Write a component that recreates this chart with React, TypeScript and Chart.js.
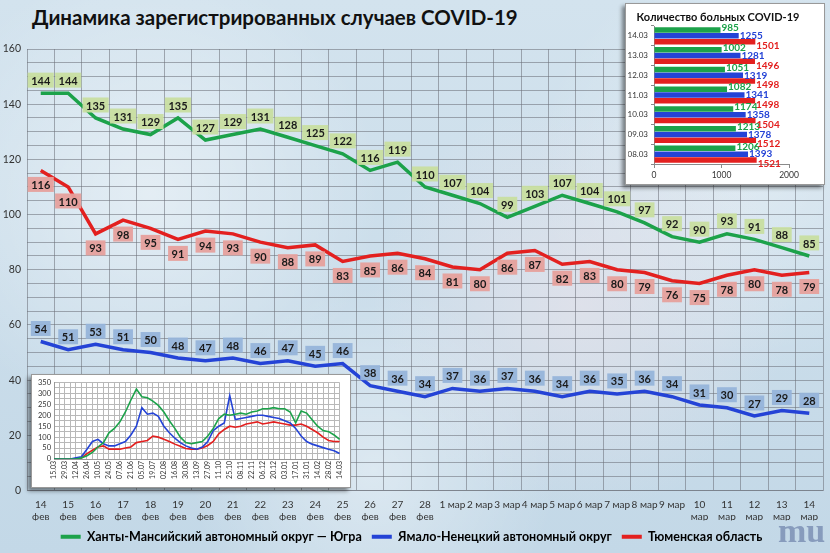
import { useEffect, useRef } from "react"
import { Chart, registerables } from "chart.js"

Chart.register(...registerables)

const FONT = "Lato, 'Noto Sans', sans-serif"

// main chart
const dayLabels: (string | string[])[] = [
  ["14", "фев"], ["15", "фев"], ["16", "фев"], ["17", "фев"], ["18", "фев"],
  ["19", "фев"], ["20", "фев"], ["21", "фев"], ["22", "фев"], ["23", "фев"],
  ["24", "фев"], ["25", "фев"], ["26", "фев"], ["27", "фев"], ["28", "фев"],
  "1 мар", "2 мар", "3 мар", "4 мар", "5 мар", "6 мар", "7 мар", "8 мар", "9 мар",
  ["10", "мар"], ["11", "мар"], ["12", "мар"], ["13", "мар"], ["14", "мар"],
]
const hmao = [144, 144, 135, 131, 129, 135, 127, 129, 131, 128, 125, 122, 116, 119, 110, 107, 104, 99, 103, 107, 104, 101, 97, 92, 90, 93, 91, 88, 85]
const yanao = [54, 51, 53, 51, 50, 48, 47, 48, 46, 47, 45, 46, 38, 36, 34, 37, 36, 37, 36, 34, 36, 35, 36, 34, 31, 30, 27, 29, 28]
const tyumen = [116, 110, 93, 98, 95, 91, 94, 93, 90, 88, 89, 83, 85, 86, 84, 81, 80, 86, 87, 82, 83, 80, 79, 76, 75, 78, 80, 78, 79]

const seriesNames = [
  "Ханты-Мансийский автономный округ — Югра",
  "Ямало-Ненецкий автономный округ",
  "Тюменская область",
]
const GREEN = "#1ca24a"
const BLUE = "#2443d6"
const RED = "#e3201f"

// inset: patients count
const barDates = ["14.03", "13.03", "12.03", "11.03", "10.03", "09.03", "08.03"]
const barHmao = [985, 1002, 1051, 1082, 1174, 1213, 1206]
const barYanao = [1255, 1281, 1319, 1341, 1358, 1378, 1393]
const barTyumen = [1501, 1496, 1498, 1498, 1504, 1512, 1521]

// inset: weekly history, 15.03 .. 14.03
const weekTicks = ["15.03", "29.03", "12.04", "26.04", "10.05", "24.05", "07.06", "21.06", "05.07", "19.07", "02.08", "16.08", "30.08", "13.09", "27.09", "11.10", "25.10", "08.11", "22.11", "06.12", "20.12", "03.01", "17.01", "31.01", "14.02", "28.02", "14.03"]
const weekHmao = [0, 0, 0, 0, 0, 5, 15, 30, 55, 75, 120, 140, 170, 215, 270, 320, 285, 280, 265, 245, 215, 175, 140, 100, 75, 70, 75, 80, 105, 140, 185, 205, 200, 205, 210, 205, 215, 220, 230, 230, 235, 230, 230, 215, 165, 220, 210, 180, 150, 130, 125, 110, 90]
const weekYanao = [0, 0, 0, 0, 5, 10, 45, 80, 90, 70, 60, 60, 70, 80, 110, 150, 235, 205, 210, 195, 150, 120, 95, 75, 60, 50, 45, 55, 80, 130, 150, 165, 290, 180, 185, 190, 195, 200, 200, 195, 190, 185, 175, 165, 140, 105, 80, 68, 60, 52, 45, 38, 25]
const weekTyumen = [0, 0, 0, 0, 0, 5, 25, 40, 55, 60, 45, 45, 45, 50, 55, 75, 80, 85, 105, 100, 90, 80, 68, 58, 48, 45, 45, 50, 62, 80, 115, 135, 150, 145, 150, 160, 165, 170, 160, 165, 170, 165, 160, 155, 155, 160, 150, 135, 120, 100, 85, 80, 80]

const labelStyle = [
  { fill: "rgba(200,222,160,0.95)", dy: -13 },
  { fill: "rgba(150,180,218,0.95)", dy: -13 },
  { fill: "rgba(230,160,156,0.95)", dy: 14 },
]

const boxLabels = {
  id: "boxLabels",
  afterDatasetsDraw(chart: any) {
    const ctx = chart.ctx
    ctx.save()
    ctx.font = `bold 11px ${FONT}`
    ctx.textAlign = "center"
    ctx.textBaseline = "middle"
    chart.data.datasets.forEach((ds: any, i: number) => {
      const meta = chart.getDatasetMeta(i)
      meta.data.forEach((pt: any, j: number) => {
        const text = String(ds.data[j])
        const w = ctx.measureText(text).width + 7
        const h = 15
        const cy = pt.y + labelStyle[i].dy
        ctx.fillStyle = labelStyle[i].fill
        ctx.fillRect(pt.x - w / 2, cy - h / 2, w, h)
        ctx.fillStyle = "#1a1a1a"
        ctx.fillText(text, pt.x, cy + 1)
      })
    })
    ctx.restore()
  },
}

function MainChart() {
  const chartRef = useRef<HTMLCanvasElement>(null)

  useEffect(() => {
    if (!chartRef.current) return
    const colors = [GREEN, BLUE, RED]
    const chart = new Chart(chartRef.current, {
      type: "line",
      data: {
        labels: dayLabels,
        datasets: [hmao, yanao, tyumen].map((d, i) => ({
          label: seriesNames[i],
          data: d,
          borderColor: colors[i],
          backgroundColor: colors[i],
          borderWidth: 3.5,
          pointRadius: 0,
          tension: 0,
        })),
      },
      options: {
        animation: false,
        responsive: true,
        maintainAspectRatio: false,
        layout: { padding: { top: 49, right: 7, left: 0, bottom: 0 } },
        scales: {
          x: {
            offset: true,
            grid: { offset: true, color: "rgba(105,110,118,0.55)", drawTicks: false },
            border: { color: "rgba(105,110,118,0.55)" },
            ticks: { color: "#333", font: { size: 10, family: FONT }, padding: 8, autoSkip: false, maxRotation: 0 },
            afterFit: (s: any) => { s.height = 30 },
          },
          y: {
            min: 0,
            max: 160,
            grid: { color: "rgba(105,110,118,0.55)", drawTicks: false },
            border: { display: false },
            ticks: {
              stepSize: 5,
              autoSkip: false,
              color: "#333",
              font: { size: 10.5, family: FONT },
              padding: 6,
              callback: (v: any) => (v % 20 === 0 ? v : ""),
            },
            afterFit: (s: any) => { s.width = 27 },
          },
        },
        plugins: {
          legend: {
            position: "bottom",
            labels: {
              boxWidth: 20,
              boxHeight: 4,
              padding: 10,
              color: "#1a1a1a",
              font: { size: 12.5, weight: "bold", family: FONT },
              generateLabels: (c: any) =>
                c.data.datasets.map((ds: any, i: number) => ({
                  text: ds.label,
                  fillStyle: ds.borderColor,
                  strokeStyle: ds.borderColor,
                  lineWidth: 0,
                  hidden: false,
                  datasetIndex: i,
                })),
            },
          },
          tooltip: { enabled: false },
        },
      },
      plugins: [boxLabels],
    })
    return () => chart.destroy()
  }, [])

  return (
    <div style={{ position: "absolute", left: 0, top: 0, width: 830, height: 553 }}>
      <canvas ref={chartRef} />
    </div>
  )
}

const barLabels = {
  id: "barLabels",
  afterDatasetsDraw(chart: any) {
    const ctx = chart.ctx
    const dy = [-2, 0, 4]
    ctx.save()
    ctx.font = `bold 10px ${FONT}`
    ctx.textAlign = "left"
    ctx.textBaseline = "middle"
    chart.data.datasets.forEach((ds: any, i: number) => {
      chart.getDatasetMeta(i).data.forEach((bar: any, j: number) => {
        ctx.fillStyle = ds.backgroundColor
        ctx.fillText(String(ds.data[j]), bar.x + 1, bar.y + dy[i])
      })
    })
    ctx.fillStyle = "#111"
    ctx.font = `bold 11px ${FONT}`
    ctx.textAlign = "center"
    ctx.fillText("Количество больных COVID-19", 92, 13)
    ctx.restore()
  },
}

function BarInset() {
  const chartRef = useRef<HTMLCanvasElement>(null)

  useEffect(() => {
    if (!chartRef.current) return
    const chart = new Chart(chartRef.current, {
      type: "bar",
      data: {
        labels: barDates,
        datasets: [
          { data: barHmao, backgroundColor: GREEN },
          { data: barYanao, backgroundColor: BLUE },
          { data: barTyumen, backgroundColor: RED },
        ],
      },
      options: {
        animation: false,
        responsive: true,
        maintainAspectRatio: false,
        indexAxis: "y",
        datasets: { bar: { categoryPercentage: 0.88, barPercentage: 0.95 } },
        layout: { padding: { top: 22, right: 35, left: 2, bottom: 0 } },
        scales: {
          x: {
            min: 0,
            max: 2000,
            ticks: {
              stepSize: 1000,
              color: "#333",
              font: { size: 8.5, family: FONT },
              padding: 2,
              callback: (v: any) => String(v),
            },
            grid: { drawOnChartArea: false, tickLength: 4, color: "#8a8a8a" },
            border: { color: "#8a8a8a" },
            afterFit: (s: any) => { s.height = 20 },
          },
          y: {
            ticks: { color: "#333", font: { size: 8, family: FONT }, padding: 3 },
            grid: { drawOnChartArea: false, tickLength: 3, offset: true, color: "#8a8a8a" },
            border: { color: "#8a8a8a" },
            afterFit: (s: any) => { s.width = 26 },
          },
        },
        plugins: { legend: { display: false }, tooltip: { enabled: false } },
      },
      plugins: [barLabels],
    })
    return () => chart.destroy()
  }, [])

  return (
    <div
      style={{
        position: "absolute", left: 625, top: 3, width: 198, height: 180,
        background: "#fff", boxShadow: "-3px 3px 4px rgba(0,0,0,0.45)", border: "1px solid #999",
      }}
    >
      <canvas ref={chartRef} />
    </div>
  )
}

function HistoryInset() {
  const chartRef = useRef<HTMLCanvasElement>(null)

  useEffect(() => {
    if (!chartRef.current) return
    const weekLabels = weekTicks.flatMap((t, i) => (i < weekTicks.length - 1 ? [t, ""] : [t]))
    const colors = [GREEN, BLUE, RED]
    const chart = new Chart(chartRef.current, {
      type: "line",
      data: {
        labels: weekLabels,
        datasets: [weekHmao, weekYanao, weekTyumen].map((d, i) => ({
          data: d,
          borderColor: colors[i],
          borderWidth: 1.6,
          pointRadius: 0,
          tension: 0,
        })),
      },
      options: {
        animation: false,
        responsive: true,
        maintainAspectRatio: false,
        layout: { padding: { top: 5, right: 4, left: 0, bottom: 0 } },
        scales: {
          x: {
            grid: { color: "#b8b8b8", drawTicks: false },
            border: { color: "#999" },
            ticks: { autoSkip: false, maxRotation: 90, minRotation: 90, color: "#333", font: { size: 7, family: FONT }, padding: 2 },
            afterFit: (s: any) => { s.height = 28 },
          },
          y: {
            min: 0,
            max: 350,
            grid: { color: "#b8b8b8", drawTicks: false },
            border: { color: "#999" },
            ticks: {
              stepSize: 25,
              autoSkip: false,
              color: "#333",
              font: { size: 7.5, family: FONT },
              padding: 3,
              callback: (v: any) => (v % 50 === 0 ? v : ""),
            },
            afterFit: (s: any) => { s.width = 22 },
          },
        },
        plugins: { legend: { display: false }, tooltip: { enabled: false } },
      },
    })
    return () => chart.destroy()
  }, [])

  return (
    <div
      style={{
        position: "absolute", left: 31, top: 374, width: 318, height: 112,
        background: "#fff", boxShadow: "-3px 3px 4px rgba(0,0,0,0.45)", border: "1px solid #999",
      }}
    >
      <canvas ref={chartRef} />
    </div>
  )
}

export default function App() {
  return (
    <div
      style={{
        position: "fixed", left: 0, top: 0, width: 830, height: 553, overflow: "hidden",
        fontFamily: FONT,
        background:
          "radial-gradient(circle at 18% 35%, rgba(255,255,255,0.45), transparent 30%)," +
          "radial-gradient(circle at 70% 55%, rgba(238,228,234,0.55), transparent 32%)," +
          "radial-gradient(circle at 45% 85%, rgba(255,255,255,0.4), transparent 28%)," +
          "radial-gradient(circle at 90% 30%, rgba(255,255,255,0.35), transparent 25%)," +
          "linear-gradient(180deg, #d3e3ee, #c3d8e7)",
      }}
    >
      <div
        style={{
          position: "absolute", left: 32, top: 5, fontSize: 20.5, fontWeight: "bold",
          color: "#111", whiteSpace: "nowrap",
        }}
      >
        Динамика зарегистрированных случаев COVID-19
      </div>
      <MainChart />
      <BarInset />
      <HistoryInset />
      <div
        style={{
          position: "absolute", left: 778, top: 512, fontSize: 34, fontWeight: "bold",
          fontFamily: "'Liberation Serif', serif", color: "rgba(95,115,160,0.6)",
        }}
      >
        mu
      </div>
    </div>
  )
}
